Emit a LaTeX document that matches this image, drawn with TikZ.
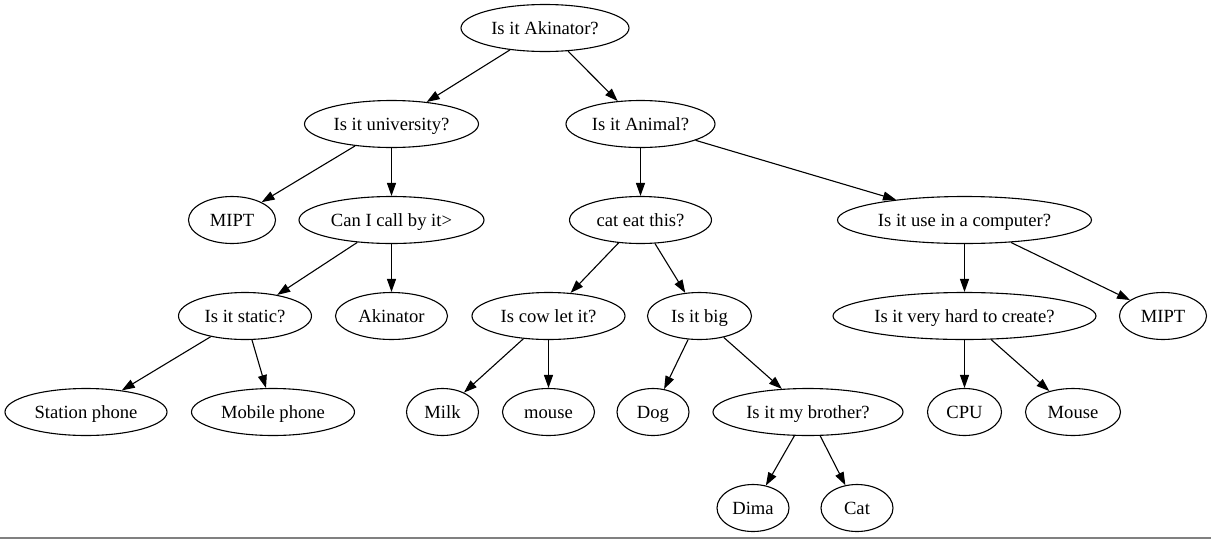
\documentclass[tikz,border=0pt]{standalone}
\usepackage{fontspec}
\setmainfont{Liberation Serif}
\usetikzlibrary{shapes.geometric,arrows.meta}
\begin{document}
\begin{tikzpicture}[x=1pt,y=-1pt,
  q/.style={draw,ellipse,line width=1.1pt,inner sep=0pt,minimum height=47pt,
    text height=16pt,text depth=4pt,
    font=\fontsize{18.6}{22}\selectfont},
  e/.style={draw,line width=1.1pt,-{Triangle[length=13pt,width=9pt]}}]
\useasboundingbox (0,0) rectangle (1211,539);
\fill[white] (0,0) rectangle (1211,539);
\draw[gray,line width=1.3pt] (0,538) -- (1211,538);
% row 1
\node[q,minimum width=168pt] (akin) at (545,28) {Is it Akinator?};
% row 2
\node[q,minimum width=174pt] (univ) at (391.5,124) {Is it university?};
\node[q,minimum width=149pt] (anim) at (640.5,124) {Is it Animal?};
% row 3
\node[q,minimum width=87pt] (mipt1) at (232,220) {MIPT};
\node[q,minimum width=185pt] (call) at (391.5,220) {Can I call by it>};
\node[q,minimum width=142pt] (cat) at (640.5,220) {cat eat this?};
\node[q,minimum width=254pt] (comp) at (964.5,220) {Is it use in a computer?};
% row 4
\node[q,minimum width=133pt] (stat) at (245,316) {Is it static?};
\node[q,minimum width=112pt] (akin2) at (391.5,316) {Akinator};
\node[q,minimum width=153pt] (cow) at (548.5,316) {Is cow let it?};
\node[q,minimum width=104pt] (big) at (699.5,316) {Is it big};
\node[q,minimum width=263pt] (hard) at (964.5,316) {Is it very hard to create?};
\node[q,minimum width=87pt] (mipt2) at (1163,316) {MIPT};
% row 5
\node[q,minimum width=162pt] (station) at (86,412) {Station phone};
\node[q,minimum width=163pt] (mobile) at (273,412) {Mobile phone};
\node[q,minimum width=72pt] (milk) at (442.5,412) {Milk};
\node[q,minimum width=92pt] (mouse1) at (548.5,412) {mouse};
\node[q,minimum width=72pt] (dog) at (653,412) {Dog};
\node[q,minimum width=190pt] (bro) at (808,412) {Is it my brother?};
\node[q,minimum width=74pt] (cpu) at (964.5,412) {CPU};
\node[q,minimum width=95pt] (mouse2) at (1073,412) {Mouse};
% row 6
\node[q,minimum width=72pt] (dima) at (753,508) {Dima};
\node[q,minimum width=72pt] (catb) at (857,508) {Cat};
% edges
\draw[e] (akin) -- (univ);
\draw[e] (akin) -- (anim);
\draw[e] (univ) -- (mipt1);
\draw[e] (univ) -- (call);
\draw[e] (anim) -- (cat);
\draw[e] (anim) -- (comp);
\draw[e] (call) -- (stat);
\draw[e] (call) -- (akin2);
\draw[e] (cat) -- (cow);
\draw[e] (cat) -- (big);
\draw[e] (comp) -- (hard);
\draw[e] (comp) -- (mipt2);
\draw[e] (stat) -- (station);
\draw[e] (stat) -- (mobile);
\draw[e] (cow) -- (milk);
\draw[e] (cow) -- (mouse1);
\draw[e] (big) -- (dog);
\draw[e] (big) -- (bro);
\draw[e] (hard) -- (cpu);
\draw[e] (hard) -- (mouse2);
\draw[e] (bro) -- (dima);
\draw[e] (bro) -- (catb);
\end{tikzpicture}
\end{document}
